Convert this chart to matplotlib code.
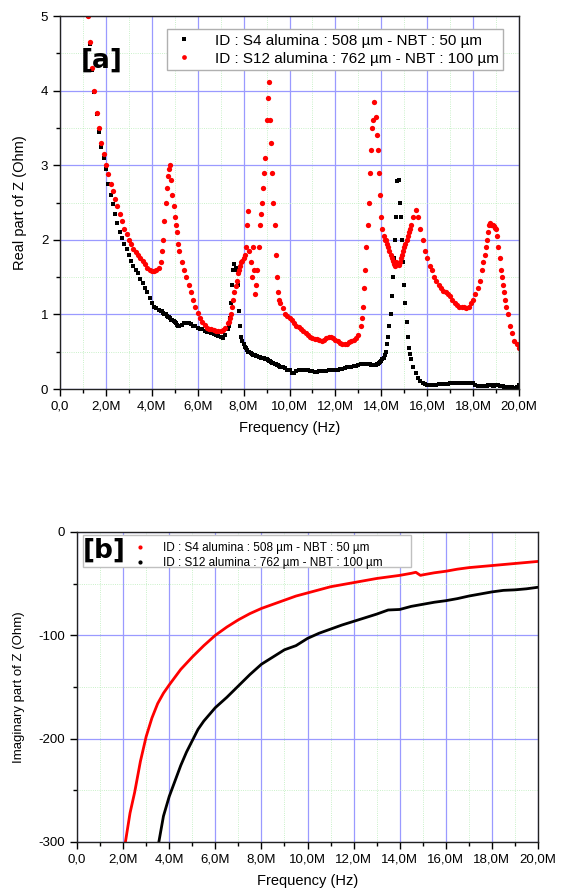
import numpy as np
import matplotlib
matplotlib.use("Agg")
import matplotlib.pyplot as plt
from matplotlib.ticker import MultipleLocator, FuncFormatter
from matplotlib.lines import Line2D
from matplotlib.patches import Rectangle

plt.rcParams['font.family'] = ['Liberation Sans', 'DejaVu Sans']
plt.rcParams['axes.unicode_minus'] = False

# ---- panel [a] : real part, frequency step 0.1 MHz from 1.2 to 20.0 MHz
freq_a = np.round(np.arange(12, 201) * 0.1, 1)   # MHz

real_s4 = [
    5.0, 4.62, 4.28, 3.98, 3.68, 3.45, 3.25, 3.1,
    2.95, 2.75, 2.6, 2.48, 2.35, 2.22, 2.1, 2.02, 1.95, 1.88,
    1.8, 1.72, 1.65, 1.6, 1.55, 1.48, 1.42, 1.36, 1.3, 1.22,
    1.15, 1.1, 1.08, 1.06, 1.05, 1.02, 1.0, 0.97, 0.95, 0.92,
    0.9, 0.86, 0.84, 0.86, 0.88, 0.89, 0.88, 0.87, 0.85, 0.84,
    0.82, 0.81, 0.8, 0.78, 0.77, 0.76, 0.75, 0.74, 0.72, 0.71,
    0.7, 0.68, 0.72, 0.8, 0.95, 1.4, 1.68, 1.6, 1.05, 0.7,
    0.6, 0.55, 0.5, 0.48, 0.46, 0.45, 0.44, 0.43, 0.42, 0.41,
    0.4, 0.38, 0.36, 0.35, 0.33, 0.32, 0.3, 0.29, 0.28, 0.26,
    0.25, 0.22, 0.21, 0.24, 0.25, 0.26, 0.26, 0.25, 0.25, 0.24,
    0.24, 0.23, 0.23, 0.24, 0.24, 0.24, 0.24, 0.25, 0.25, 0.25,
    0.26, 0.26, 0.27, 0.27, 0.28, 0.29, 0.3, 0.3, 0.31, 0.31,
    0.32, 0.33, 0.33, 0.34, 0.34, 0.33, 0.32, 0.32, 0.33, 0.35,
    0.38, 0.42, 0.5, 0.7, 1.0, 1.5, 2.0, 2.79, 2.5, 2.0,
    1.4, 0.9, 0.55, 0.4, 0.3, 0.22, 0.15, 0.11, 0.08, 0.07,
    0.06, 0.06, 0.06, 0.06, 0.06, 0.07, 0.07, 0.07, 0.07, 0.07,
    0.08, 0.08, 0.08, 0.08, 0.08, 0.08, 0.08, 0.08, 0.08, 0.08,
    0.08, 0.06, 0.04, 0.04, 0.04, 0.04, 0.04, 0.05, 0.05, 0.04,
    0.05, 0.05, 0.04, 0.04, 0.03, 0.03, 0.03, 0.03, 0.02, 0.03,
    0.06,
]

real_s12 = [
    5.0, 4.65, 4.3, 4.0, 3.7, 3.5, 3.3, 3.15,
    3.0, 2.88, 2.75, 2.65, 2.55, 2.45, 2.35, 2.25, 2.15, 2.08,
    2.0, 1.95, 1.88, 1.84, 1.8, 1.76, 1.72, 1.68, 1.62, 1.6,
    1.58, 1.58, 1.6, 1.62, 1.7, 2.0, 2.5, 2.85, 3.0, 2.6,
    2.3, 2.1, 1.85, 1.7, 1.6, 1.5, 1.4, 1.3, 1.2, 1.1,
    1.02, 0.95, 0.9, 0.86, 0.82, 0.81, 0.8, 0.79, 0.78, 0.78,
    0.78, 0.79, 0.82, 0.88, 0.95, 1.1, 1.3, 1.45, 1.6, 1.7,
    1.75, 1.9, 2.38, 1.7, 1.9, 1.28, 1.6, 2.2, 2.5, 2.9,
    3.6, 4.12, 3.3, 2.5, 1.8, 1.3, 1.15, 1.08, 1.0, 0.98,
    0.95, 0.92, 0.88, 0.85, 0.83, 0.8, 0.78, 0.75, 0.72, 0.7,
    0.68, 0.67, 0.67, 0.66, 0.65, 0.66, 0.68, 0.7, 0.7, 0.68,
    0.66, 0.64, 0.62, 0.6, 0.6, 0.61, 0.63, 0.65, 0.66, 0.68,
    0.72, 0.85, 1.1, 1.6, 2.2, 2.9, 3.5, 3.85, 3.4, 2.9,
    2.3, 2.05, 2.0, 1.9, 1.8, 1.72, 1.65, 1.68, 1.7, 1.8,
    1.9, 2.0, 2.1, 2.2, 2.3, 2.4, 2.3, 2.15, 2.0, 1.85,
    1.75, 1.65, 1.6, 1.5, 1.45, 1.4, 1.35, 1.32, 1.3, 1.28,
    1.25, 1.2, 1.15, 1.12, 1.1, 1.1, 1.1, 1.08, 1.1, 1.15,
    1.2, 1.28, 1.35, 1.45, 1.6, 1.8, 2.0, 2.2, 2.2, 2.18,
    2.15, 1.9, 1.6, 1.4, 1.2, 1.0, 0.85, 0.75, 0.65, 0.6,
    0.55,
]

# extra readings (half steps) where the resonances are steep
freq_a_extra = [
    4.45, 4.55, 4.65, 4.75, 4.85, 4.95, 5.05, 5.15,
    7.35, 7.45, 7.55, 7.65, 7.75, 7.85, 7.95, 8.05, 8.15, 8.25, 8.35, 8.45,
    8.55, 8.65, 8.75, 8.85, 8.95, 9.05, 9.15, 9.25, 9.35, 9.45, 9.55,
    13.15, 13.25, 13.35, 13.45, 13.55, 13.65, 13.75, 13.85, 13.95, 14.05, 14.15,
    14.25, 14.35, 14.45, 14.55, 14.65, 14.75, 14.85, 14.95, 15.05, 15.15, 15.25,
    18.45, 18.55, 18.65, 18.75, 18.85, 18.95, 19.05, 19.15, 19.25, 19.35, 19.45,
]
real_s4_extra = [
    1.04, 1.01, 0.98, 0.96, 0.93, 0.91, 0.88, 0.85,
    0.85, 1.15, 1.6, 1.62, 1.4, 0.85, 0.65, 0.57, 0.52, 0.49, 0.47, 0.45,
    0.44, 0.43, 0.42, 0.41, 0.4, 0.39, 0.37, 0.35, 0.34, 0.32, 0.31,
    0.33, 0.34, 0.34, 0.33, 0.32, 0.32, 0.32, 0.34, 0.36, 0.4, 0.46,
    0.6, 0.85, 1.25, 1.75, 2.3, 2.8, 2.3, 1.7, 1.15, 0.7, 0.47,
    0.04, 0.04, 0.05, 0.05, 0.04, 0.05, 0.05, 0.04, 0.04, 0.03, 0.03,
]
real_s12_extra = [
    1.85, 2.25, 2.7, 2.95, 2.8, 2.45, 2.2, 1.95,
    0.9, 1.0, 1.2, 1.38, 1.55, 1.65, 1.72, 1.8, 2.2, 1.85, 1.5, 1.6,
    1.4, 1.9, 2.35, 2.7, 3.1, 3.9, 3.6, 2.9, 2.2, 1.5, 1.2,
    0.95, 1.35, 1.9, 2.5, 3.2, 3.6, 3.65, 3.2, 2.6, 2.15, 2.0,
    1.95, 1.85, 1.75, 1.68, 1.7, 1.66, 1.75, 1.85, 1.95, 2.05, 2.15,
    1.7, 1.9, 2.1, 2.22, 2.2, 2.16, 2.05, 1.75, 1.5, 1.3, 1.1,
]

# ---- panel [b] : imaginary part
freq_b_s4 = [2.1, 2.3, 2.5, 2.75, 3.0, 3.25, 3.5, 3.75, 4.0, 4.5, 5.0, 5.5,
             6.0, 6.5, 7.0, 7.5, 8.0, 8.5, 9.0, 9.5, 10.0, 10.5, 11.0, 11.5,
             12.0, 12.5, 13.0, 13.5, 14.0, 14.5, 14.7, 14.9, 15.0, 15.5, 16.0,
             16.5, 17.0, 17.5, 18.0, 18.5, 19.0, 19.5, 20.0]
imag_s4 = [-300, -272, -252, -222, -198, -180, -166, -156, -148, -133, -121,
           -110, -100, -92, -85, -79, -74, -70, -66, -62, -59, -56, -53, -51,
           -49, -47, -45, -43.5, -42, -40, -39, -42, -41.5, -39.5, -38, -36,
           -34.5, -33.5, -32.5, -31.5, -30.5, -29.5, -28.5]

freq_b_s12 = [3.55, 3.75, 4.0, 4.25, 4.5, 4.75, 5.0, 5.25, 5.5, 6.0, 6.5, 7.0,
              7.5, 8.0, 8.5, 9.0, 9.5, 10.0, 10.5, 11.0, 11.5, 12.0, 12.5,
              13.0, 13.5, 14.0, 14.5, 15.0, 15.5, 16.0, 16.5, 17.0, 17.5,
              18.0, 18.5, 19.0, 19.5, 20.0]
imag_s12 = [-300, -275, -256, -241, -226, -213, -202, -191, -183, -170, -160,
            -149, -138, -128, -121, -114, -110, -103, -98, -94, -90, -86.5,
            -83, -79.5, -75.5, -75, -72, -70, -68, -66.5, -64.5, -62, -60,
            -58, -56.5, -56, -55, -53.5]

label_s4 = "ID : S4 alumina : 508 µm - NBT : 50 µm"
label_s12 = "ID : S12 alumina : 762 µm - NBT : 100 µm"

MHZ = 1e6


def freq_fmt(v, pos):
    if abs(v) < 1:
        return "0,0"
    return f"{v / MHZ:.1f}M".replace(".", ",")


def style_axes(ax, ymajor, yminor):
    ax.xaxis.set_major_locator(MultipleLocator(2 * MHZ))
    ax.xaxis.set_minor_locator(MultipleLocator(1 * MHZ))
    ax.yaxis.set_major_locator(MultipleLocator(ymajor))
    ax.yaxis.set_minor_locator(MultipleLocator(yminor))
    ax.xaxis.set_major_formatter(FuncFormatter(freq_fmt))
    ax.grid(which='major', color='#9a9aff', linewidth=0.9)
    ax.grid(which='minor', color='#b8ecb8', linewidth=0.6, linestyle=':')
    ax.set_axisbelow(True)
    ax.tick_params(which='major', direction='out', length=5, width=1,
                   labelsize=9.5, top=False, right=False)
    ax.tick_params(which='minor', direction='out', length=3, width=1,
                   top=False, right=False)
    for s in ax.spines.values():
        s.set_linewidth(1.0)
        s.set_color('#222222')


fig = plt.figure(figsize=(5.63, 8.89), dpi=100)

# ---------------- [a]
ax1 = fig.add_axes([0.1066, 0.5624, 0.8153, 0.4196])
x_s = np.concatenate([freq_a, freq_a_extra]) * MHZ
y_s4 = np.concatenate([real_s4, real_s4_extra])
y_s12 = np.concatenate([real_s12, real_s12_extra])
ax1.plot(x_s, y_s4, ls='none', marker='s', ms=3.5, mew=0, color='black',
         label=label_s4)
ax1.plot(x_s, y_s12, ls='none', marker='o', ms=3.8, mew=0, color='#ff0000',
         label=label_s12)
ax1.set_xlim(0, 20 * MHZ)
ax1.set_ylim(0, 5)
style_axes(ax1, 1, 0.5)
ax1.set_xlabel("Frequency (Hz)", fontsize=10.5, labelpad=6)
ax1.set_ylabel("Real part of Z (Ohm)", fontsize=10.5, labelpad=10)
leg1 = ax1.legend(loc='upper right', bbox_to_anchor=(0.982, 0.985),
                  fontsize=11, fancybox=False, framealpha=1,
                  edgecolor='#b0b0b0', markerscale=0.9, handlelength=1.6,
                  handletextpad=1.2, borderpad=0.3, labelspacing=0.25)
leg1.get_frame().set_linewidth(1.0)
ax1.text(0.09, 0.88, "[a]", transform=ax1.transAxes, fontsize=19,
         fontweight='bold', family='DejaVu Sans', ha='center', va='center')

# ---------------- [b]
ax2 = fig.add_axes([0.1368, 0.0529, 0.8188, 0.3487])
ax2.plot(np.array(freq_b_s4) * MHZ, imag_s4, color='#ff0000', lw=2.0)
ax2.plot(np.array(freq_b_s12) * MHZ, imag_s12, color='black', lw=2.0)
ax2.set_xlim(0, 20 * MHZ)
ax2.set_ylim(-300, 0)
style_axes(ax2, 100, 50)
ax2.set_xlabel("Frequency (Hz)", fontsize=10.5, labelpad=6)
ax2.set_ylabel("Imaginary part of Z (Ohm)", fontsize=9.5, labelpad=10)
ax2.add_patch(Rectangle((0.012, 0.887), 0.713, 0.104, transform=ax2.transAxes,
                        facecolor='white', edgecolor='#c0c0c0', lw=1.0,
                        zorder=3))
handles_b = [Line2D([], [], ls='none', marker='o', ms=2, color='#ff0000'),
             Line2D([], [], ls='none', marker='o', ms=2, color='black')]
leg2 = ax2.legend(handles_b, [label_s4, label_s12], loc='upper left',
                  bbox_to_anchor=(0.1, 0.998), fontsize=8.5, frameon=False,
                  handlelength=1.2, handletextpad=1.4, borderpad=0.3,
                  labelspacing=0.25)
leg2.set_zorder(4)
ax2.text(0.06, 0.939, "[b]", transform=ax2.transAxes, fontsize=19,
         fontweight='bold', family='DejaVu Sans', ha='center', va='center',
         zorder=5)

fig.savefig("out.png", dpi=100)
